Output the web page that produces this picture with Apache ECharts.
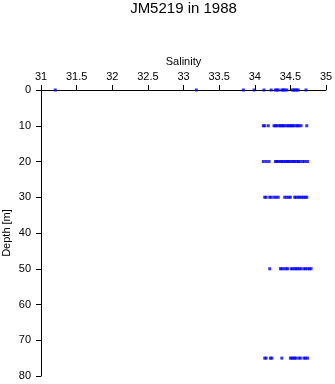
<!DOCTYPE html>
<html><head><meta charset="utf-8">
<script src="https://cdn.jsdelivr.net/npm/echarts@6/dist/echarts.min.js"></script>
<style>html,body{margin:0;padding:0;background:#fff}#c{width:335px;height:384px}</style>
</head><body><div id="c"></div>
<script>
var title = 'JM5219 in 1988';
var depths = [0, 10, 20, 30, 50, 75];
var sal0 = [31.2, 33.18, 33.84, 33.99, 34.13, 34.23, 34.29, 34.31, 34.33, 34.38, 34.40, 34.42, 34.45, 34.53, 34.55, 34.57, 34.59, 34.61, 34.72];
var sal10 = [34.12, 34.14, 34.19, 34.27, 34.29, 34.31, 34.34, 34.36, 34.38, 34.40, 34.42, 34.45, 34.47, 34.49, 34.51, 34.53, 34.55, 34.58, 34.60, 34.62, 34.65, 34.73];
var sal20 = [34.12, 34.16, 34.20, 34.29, 34.31, 34.33, 34.36, 34.38, 34.40, 34.43, 34.45, 34.47, 34.49, 34.52, 34.54, 34.56, 34.59, 34.61, 34.63, 34.67, 34.70, 34.74];
var sal30 = [34.14, 34.16, 34.21, 34.23, 34.27, 34.30, 34.33, 34.42, 34.45, 34.48, 34.50, 34.56, 34.58, 34.61, 34.63, 34.66, 34.68, 34.71, 34.73];
var sal50 = [34.21, 34.36, 34.38, 34.41, 34.44, 34.46, 34.51, 34.53, 34.56, 34.58, 34.60, 34.63, 34.65, 34.69, 34.71, 34.74, 34.77, 34.79];
var sal75 = [34.14, 34.16, 34.22, 34.24, 34.38, 34.50, 34.52, 34.54, 34.56, 34.58, 34.62, 34.64, 34.69, 34.71, 34.74];
var salByDepth = [sal0, sal10, sal20, sal30, sal50, sal75];

var data = [];
depths.forEach(function (d, i) {
  salByDepth[i].forEach(function (s) { data.push([s, d]); });
});

var font = 'Liberation Sans, Arial, Helvetica, sans-serif';
var chart = echarts.init(document.getElementById('c'));
chart.setOption({
  animation: false,
  title: {
    text: title, left: 183.5, textAlign: 'center', top: 1.5, padding: 0,
    textStyle: { fontFamily: font, fontSize: 15, fontWeight: 'normal', color: '#000' }
  },
  grid: { left: 41, right: 9, top: 90, bottom: 8, containLabel: false, outerBoundsMode: 'none' },
  xAxis: {
    type: 'value', position: 'top', min: 31, max: 35, interval: 0.5,
    name: 'Salinity', nameLocation: 'middle', nameGap: 23, nameMoveOverlap: false,
    nameTextStyle: { fontFamily: font, fontSize: 11, color: '#000' },
    axisLine: { show: true, lineStyle: { color: '#000', width: 1 } },
    axisTick: { show: true, length: 5, lineStyle: { color: '#000' } },
    axisLabel: { fontFamily: font, fontSize: 11, color: '#000', margin: 8 },
    splitLine: { show: false }
  },
  yAxis: {
    type: 'value', inverse: true, min: 0, max: 80, interval: 10,
    name: 'Depth [m]', nameLocation: 'middle', nameGap: 29, nameMoveOverlap: false,
    nameTextStyle: { fontFamily: font, fontSize: 11, color: '#000' },
    axisLine: { show: true, lineStyle: { color: '#000', width: 1 } },
    axisTick: { show: true, length: 5, lineStyle: { color: '#000' } },
    axisLabel: { fontFamily: font, fontSize: 11, color: '#000', margin: 10 },
    splitLine: { show: false }
  },
  series: [{
    type: 'scatter', data: data, symbol: 'rect', symbolSize: 3,
    itemStyle: { color: '#0000ff' }
  }]
});
</script></body></html>
